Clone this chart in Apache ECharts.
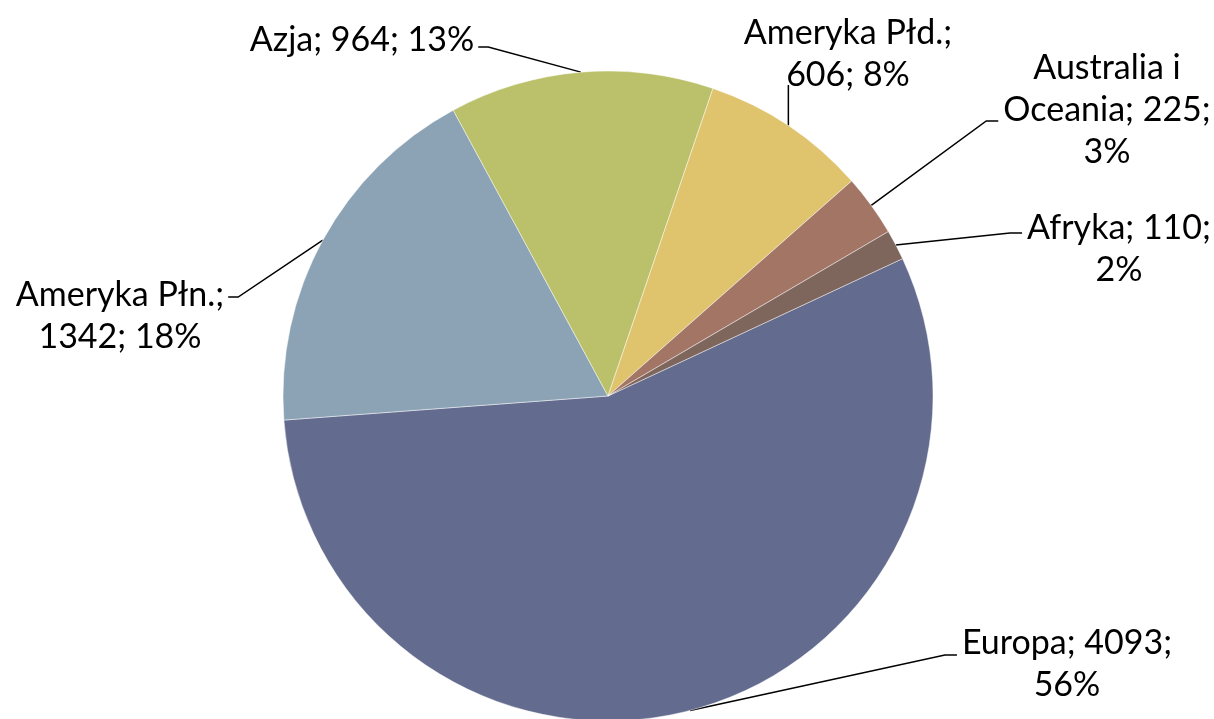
<!DOCTYPE html>
<html>
<head>
<meta charset="utf-8">
<script src="https://cdn.jsdelivr.net/npm/echarts@6/dist/echarts.min.js"></script>
<style>
    html, body { margin: 0; padding: 0; background: #fff; }
    #chart { width: 1214px; height: 719px; }
</style>
</head>
<body>
<div id="chart"></div>
<script>
// Data
const regions = ['Europa', 'Ameryka Płn.', 'Azja', 'Ameryka Płd.', 'Australia i Oceania', 'Afryka'];
const counts = [4093, 1342, 964, 606, 225, 110];
const sliceColors = ['#636b8e', '#8ca3b6', '#bbc16b', '#dfc36d', '#a27564', '#7f665d'];

// Where each label sits (centre x, top y), which side the leader meets it,
// how far down that meeting point is, and how many chars fit on a line
const labelPlace = {
    'Europa':              { x: 1067, y: 622, side: 'left',  dy: 33, wrap: 13 },
    'Ameryka Płn.':        { x: 120,  y: 274, side: 'right', dy: 23, wrap: 13 },
    'Azja':                { x: 362,  y: 19,  side: 'right', dy: 28, wrap: 20 },
    'Ameryka Płd.':        { x: 848,  y: 12,  side: 'below', dy: 73, wrap: 13 },
    'Australia i Oceania': { x: 1107, y: 47,  side: 'left',  dy: 74, wrap: 13 },
    'Afryka':              { x: 1119, y: 207, side: 'left',  dy: 26, wrap: 13 }
};

// Simple word wrap
function wrapText(str, max) {
    const words = str.split(' ');
    const lines = [];
    let cur = '';
    words.forEach(w => {
        if (cur && (cur + ' ' + w).length > max) {
            lines.push(cur);
            cur = w;
        } else {
            cur = cur ? cur + ' ' + w : w;
        }
    });
    lines.push(cur);
    return lines.join('\n');
}

const chart = echarts.init(document.getElementById('chart'));

const option = {
    animation: false,
    color: sliceColors,
    series: [{
        type: 'pie',
        center: [608, 396],
        radius: 325,
        startAngle: 25,
        clockwise: true,
        avoidLabelOverlap: false,
        data: regions.map((name, i) => ({ name: name, value: counts[i] })),
        itemStyle: {
            borderColor: 'rgba(255,255,255,0.45)',
            borderWidth: 1
        },
        label: {
            show: true,
            position: 'outside',
            fontFamily: 'Lato',
            fontSize: 34,
            lineHeight: 42,
            color: '#000',
            formatter: function(p) {
                const txt = p.name + '; ' + p.value + '; ' + Math.round(p.percent) + '%';
                return wrapText(txt, labelPlace[p.name].wrap);
            }
        },
        labelLine: {
            show: true,
            length: 20,
            length2: 10,
            lineStyle: { color: '#000', width: 1.5 }
        },
        labelLayout: function(p) {
            const L = labelPlace[regions[p.dataIndex]];
            const w = p.labelRect.width;
            const p0 = p.labelLinePoints[0];
            const yLine = L.y + L.dy;
            let pts;
            if (L.side === 'left') {
                const lx = L.x - w / 2;
                pts = [p0, [lx - 17, yLine], [lx - 5, yLine]];
            } else if (L.side === 'right') {
                const rx = L.x + w / 2;
                pts = [p0, [rx + 14, yLine], [rx + 4, yLine]];
            } else {
                pts = [p0, [p0[0], yLine]];
            }
            return {
                x: L.x,
                y: L.y,
                align: 'center',
                verticalAlign: 'top',
                labelLinePoints: pts
            };
        },
        emphasis: { disabled: true }
    }]
};

chart.setOption(option);
window.addEventListener('resize', () => chart.resize());
</script>
</body>
</html>
